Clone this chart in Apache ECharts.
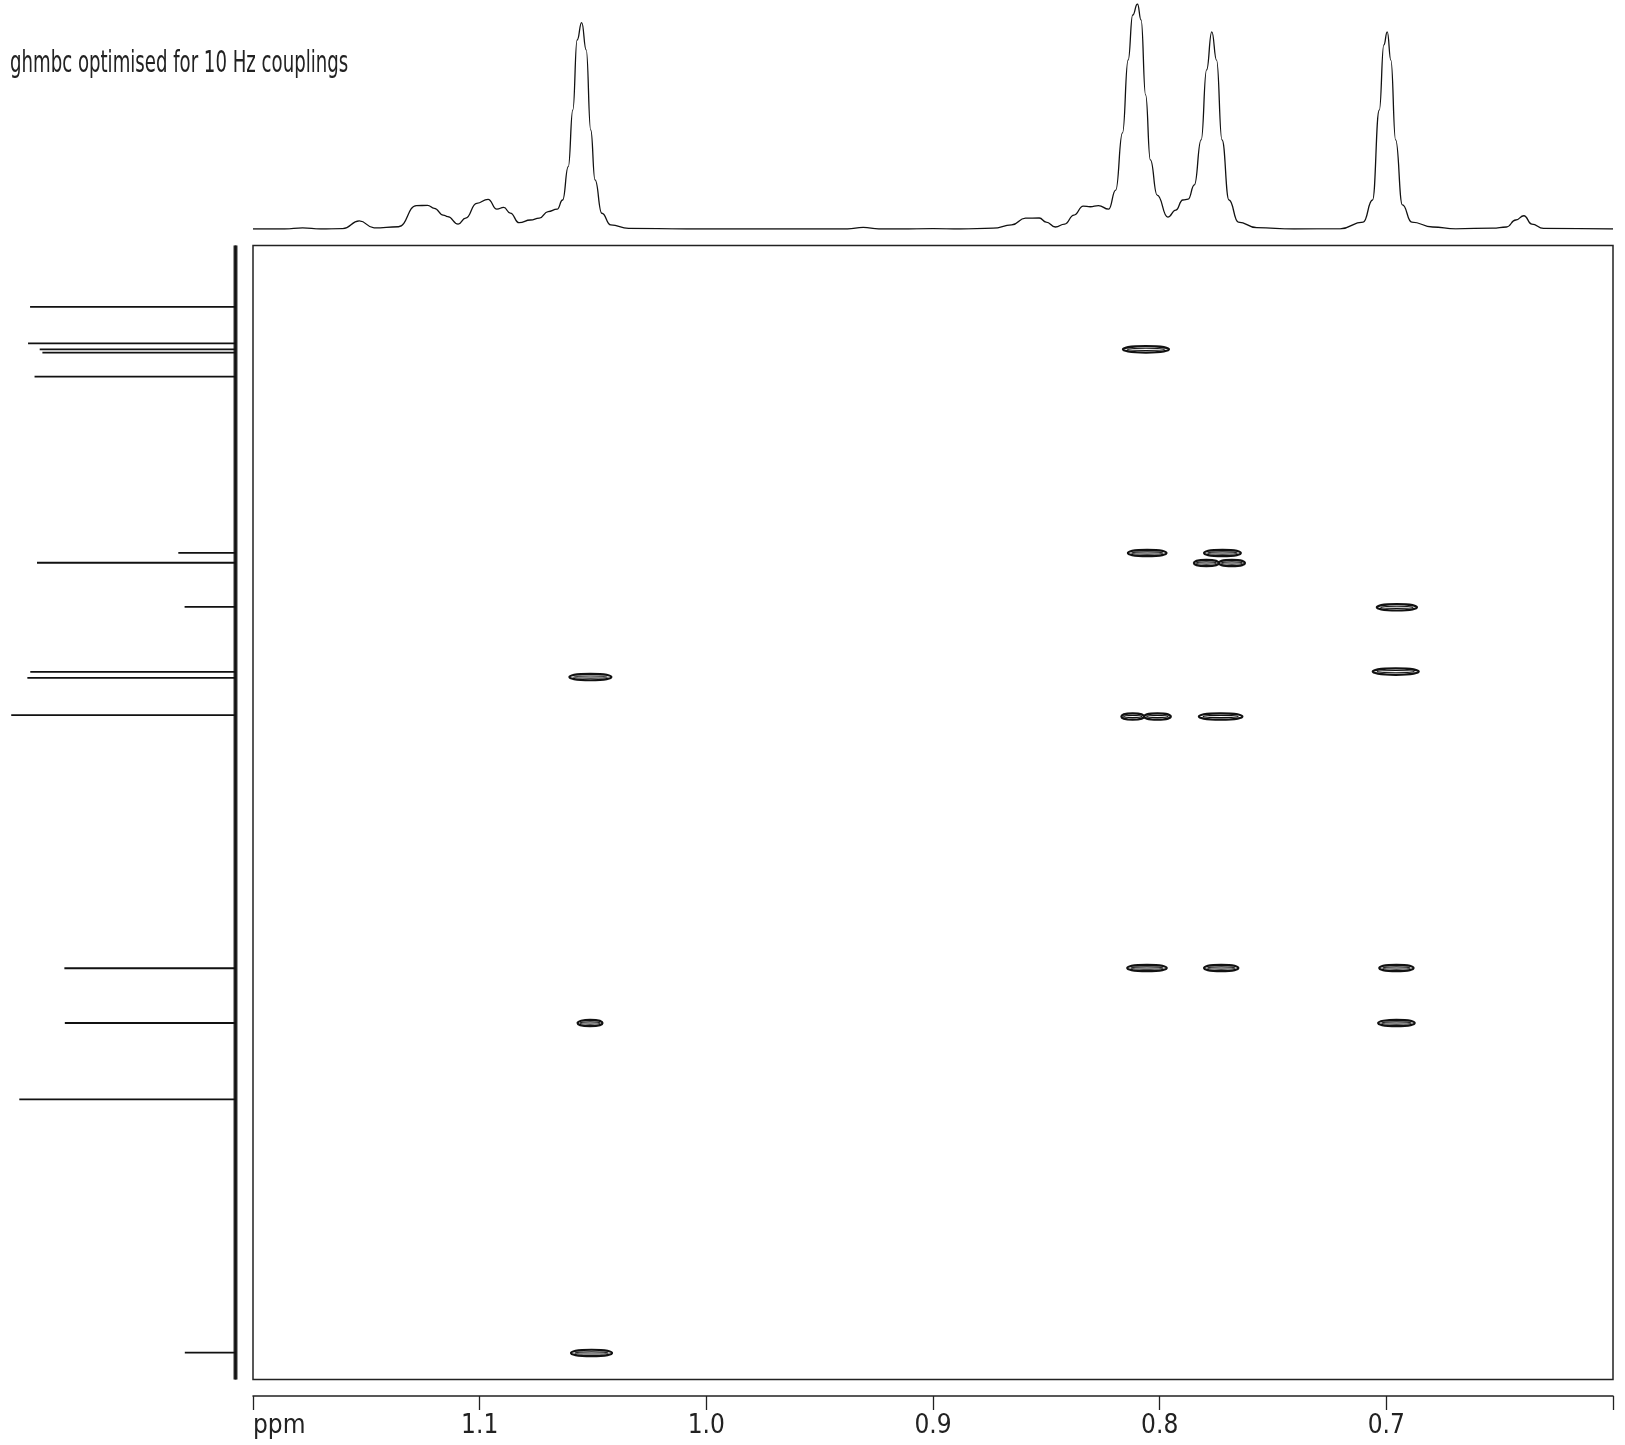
<!DOCTYPE html>
<html>
<head>
<meta charset="utf-8">
<script src="https://cdn.jsdelivr.net/npm/echarts@6/dist/echarts.min.js"></script>
<style>
  html, body { margin: 0; padding: 0; background: #fff; }
  #chart { width: 1625px; height: 1445px; }
</style>
</head>
<body>
<div id="chart"></div>
<script>
const FONT = '"Liberation Sans Narrow", "DejaVu Sans Condensed", "Open Sans", sans-serif';

// x axis ticks (1H ppm), the first one carries the unit
const tickValues = [1.2, 1.1, 1.0, 0.9, 0.8, 0.7, 0.6];
const tickLabels = ['ppm', '1.1', '1.0', '0.9', '0.8', '0.7', ''];

// 1H projection (top trace): shift in ppm, intensity in % of the tallest peak
const protonShift = [
  1.2000, 1.1860, 1.1781, 1.1702, 1.1604, 1.1531, 1.1466, 1.1358, 1.1279, 1.1230,
  1.1200, 1.1161, 1.1141, 1.1095, 1.1062, 1.1013, 1.0963, 1.0924, 1.0894, 1.0865,
  1.0826, 1.0776, 1.0737, 1.0698, 1.0658, 1.0634, 1.0609, 1.0589, 1.0570, 1.0550,
  1.0530, 1.0510, 1.0491, 1.0461, 1.0422, 1.0343, 1.0087, 0.9890, 0.9377, 0.9308,
  0.9239, 0.9143, 0.9000, 0.8879, 0.8735, 0.8653, 0.8592, 0.8531, 0.8501, 0.8460,
  0.8419, 0.8378, 0.8337, 0.8306, 0.8270, 0.8225, 0.8194, 0.8164, 0.8139, 0.8119,
  0.8098, 0.8082, 0.8062, 0.8041, 0.8011, 0.7964, 0.7929, 0.7898, 0.7874, 0.7847,
  0.7817, 0.7793, 0.7770, 0.7749, 0.7725, 0.7694, 0.7653, 0.7572, 0.7408, 0.7204,
  0.7102, 0.7061, 0.7031, 0.7011, 0.6996, 0.6980, 0.6959, 0.6929, 0.6888, 0.6796,
  0.6694, 0.6531, 0.6470, 0.6429, 0.6393, 0.6358, 0.6307, 0.6000
];
const protonIntensity = [
  0, 0, 0.5, 0, 0.2, 3.6, 0.5, 1.0, 10.4, 10.5,
  9.2, 6.2, 5.5, 2.2, 4.8, 11.4, 13.2, 8.8, 9.6, 7.1,
  2.8, 4.0, 4.8, 7.7, 8.8, 12.9, 27.7, 52.9, 84, 91.7,
  79.6, 44, 21.8, 7, 1.8, 0.3, 0, 0, 0, 0.7,
  0, 0, 0.2, 0, 0.4, 1.8, 4.8, 4.9, 3.1, 0.9,
  2.2, 6.2, 10.2, 9.9, 10.4, 8.8, 17.3, 42.7, 75.1, 95.1,
  100, 92.9, 59.6, 30.7, 15.1, 5.3, 8.4, 12.9, 13.3, 19.6,
  39.6, 70.7, 87.6, 75.1, 39.6, 12.9, 3.1, 0.6, 0, 0.1,
  3.1, 12.9, 52.9, 81.8, 87.6, 75.1, 39.6, 10.7, 3.1, 0.9,
  0.1, 0.4, 0.9, 4.0, 5.9, 2.2, 0.3, 0
];

// 13C projection (left trace): position on the f1 axis (0 top .. 100 bottom), peak height
const carbonPos = [5.40, 8.63, 9.16, 9.44, 11.56, 27.10, 27.97, 31.87, 37.59, 38.12,
                   41.41, 63.73, 68.56, 75.29, 97.63];
const carbonHeight = [91.6, 92.5, 87.3, 86.1, 89.6, 25.5, 88.5, 22.7, 91.5, 92.8,
                      100, 76.3, 76.1, 96.4, 22.6];

// cross peaks: 1H extent (from, to) and f1 position
const crossFrom = [0.8162, 0.8140, 0.7804, 0.7849, 0.7739, 0.7042, 1.0604, 0.7060, 0.8169,
                   0.8069, 0.7827, 0.8143, 0.7804, 0.7031, 1.0568, 0.7036, 1.0597];
const crossTo = [0.7959, 0.7970, 0.7642, 0.7739, 0.7624, 0.6865, 1.0419, 0.6857, 0.8069,
                 0.7951, 0.7635, 0.7969, 0.7653, 0.6880, 1.0458, 0.6875, 1.0416];
const crossF1 = [9.15, 27.11, 27.11, 27.99, 27.99, 31.90, 38.05, 37.57, 41.53,
                 41.53, 41.53, 63.71, 63.71, 63.71, 68.56, 68.56, 97.66];

const topTrace = protonShift.map((s, i) => [s, protonIntensity[i]]);

// left trace: baseline with a spike out and back at each carbon
const sideTrace = [[0, 0]];
carbonPos.forEach((p, i) => {
  sideTrace.push([0, p], [carbonHeight[i], p], [0, p]);
});
sideTrace.push([0, 100]);

const crossData = crossF1.map((f, i) => [crossFrom[i], crossTo[i], f]);

function renderCross(params, api) {
  const a = api.coord([api.value(0), api.value(2)]);
  const b = api.coord([api.value(1), api.value(2)]);
  const cx = (a[0] + b[0]) / 2;
  const cy = a[1];
  const rx = Math.abs(b[0] - a[0]) / 2;
  return {
    type: 'group',
    children: [
      { type: 'ellipse', shape: { cx: cx, cy: cy, rx: rx, ry: 3.2 },
        style: { fill: 'none', stroke: '#111', lineWidth: 2.2 } },
      { type: 'ellipse', shape: { cx: cx, cy: cy, rx: rx * 0.8, ry: 1.1 },
        style: { fill: 'none', stroke: '#111', lineWidth: 1.1 } }
    ]
  };
}

function tickLabel(v) {
  const i = tickValues.findIndex(t => Math.abs(t - v) < 1e-6);
  return i < 0 ? '' : tickLabels[i];
}

const chart = echarts.init(document.getElementById('chart'));
chart.setOption({
  backgroundColor: '#fff',
  animation: false,
  graphic: [{
    type: 'text',
    x: 10,
    y: 48,
    scaleX: 0.65,
    style: { text: 'ghmbc optimised for 10 Hz couplings', font: '31px ' + FONT, fill: '#222' }
  }],
  grid: [
    { left: 253, right: 12, top: 245.6, bottom: 65.5, show: true, borderColor: '#222', borderWidth: 1.5 },
    { left: 253, right: 12, top: 4, bottom: 1216 },
    { left: 0, right: 1389.5, top: 245.6, bottom: 65.5 }
  ],
  xAxis: [
    {
      gridIndex: 0, type: 'value', min: 0.6, max: 1.2, interval: 0.1, inverse: true,
      position: 'bottom', offset: 16.5,
      axisLine: { show: true, onZero: false, lineStyle: { color: '#222', width: 1.5 } },
      axisTick: { show: true, length: 14, lineStyle: { color: '#222', width: 1.3 } },
      splitLine: { show: false },
      axisLabel: {
        formatter: tickLabel, color: '#222', fontFamily: FONT, fontSize: 26, margin: 17,
        showMinLabel: true, showMaxLabel: true, alignMaxLabel: 'left'
      }
    },
    { gridIndex: 1, type: 'value', min: 0.6, max: 1.2, inverse: true, show: false },
    { gridIndex: 2, type: 'value', min: 0, max: 105, inverse: true, show: false }
  ],
  yAxis: [
    { gridIndex: 0, type: 'value', min: 0, max: 100, inverse: true, show: false },
    { gridIndex: 1, type: 'value', min: 0, max: 100, show: false },
    { gridIndex: 2, type: 'value', min: 0, max: 100, inverse: true, show: false }
  ],
  series: [
    {
      type: 'line', xAxisIndex: 1, yAxisIndex: 1, data: topTrace,
      showSymbol: false, smooth: 0.5, smoothMonotone: 'x',
      lineStyle: { color: '#111', width: 1.3 }
    },
    {
      type: 'line', xAxisIndex: 2, yAxisIndex: 2, data: [[0, 0], [0, 100]],
      showSymbol: false, lineStyle: { color: '#333', width: 4 }
    },
    {
      type: 'line', xAxisIndex: 2, yAxisIndex: 2, data: sideTrace,
      showSymbol: false, lineStyle: { color: '#111', width: 1.8 }
    },
    {
      type: 'custom', xAxisIndex: 0, yAxisIndex: 0, data: crossData,
      encode: { x: [0, 1], y: 2 }, renderItem: renderCross
    }
  ]
});
</script>
</body>
</html>
